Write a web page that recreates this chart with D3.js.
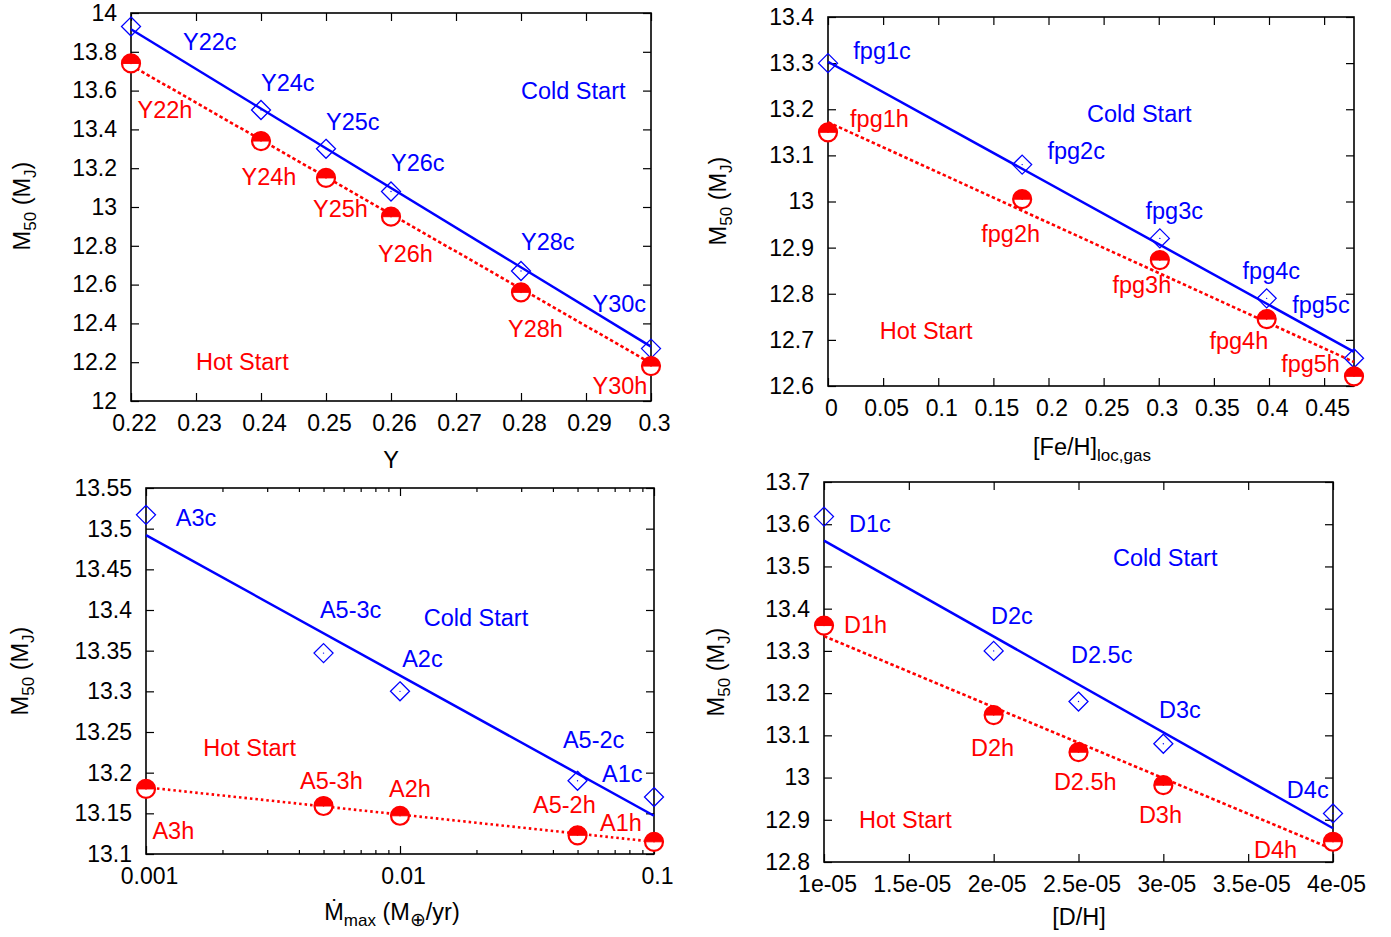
<!DOCTYPE html>
<html><head><meta charset="utf-8">
<script src="https://cdn.jsdelivr.net/npm/d3@7/dist/d3.min.js"></script>
<style>
body{margin:0;background:#fff;}
text{font-family:"Liberation Sans",Arial,Helvetica,sans-serif;}
</style></head>
<body><svg id="c" width="1391" height="937"></svg>
<script>
// ---------- DATA ----------
// Panel A: helium abundance Y
const heX = [0.22, 0.24, 0.25, 0.26, 0.28, 0.30];
const heCold = [13.93, 13.50, 13.30, 13.08, 12.67, 12.27];
const heHot = [13.74, 13.34, 13.15, 12.95, 12.56, 12.18];
const heColdFit = [13.916, 12.28];
const heHotFit = [13.73, 12.195];
const heColdLabels = ["Y22c", "Y24c", "Y25c", "Y26c", "Y28c", "Y30c"];
const heHotLabels = ["Y22h", "Y24h", "Y25h", "Y26h", "Y28h", "Y30h"];
const heColdLabelPos = [[0.228, 13.85], [0.24, 13.64], [0.25, 13.44], [0.26, 13.23], [0.28, 12.82], [0.291, 12.50]];
const heHotLabelPos = [[0.221, 13.50], [0.237, 13.155], [0.248, 12.99], [0.258, 12.76], [0.278, 12.37], [0.291, 12.08]];
const heXTicks = [0.22, 0.23, 0.24, 0.25, 0.26, 0.27, 0.28, 0.29, 0.3];
const heYTicks = [12, 12.2, 12.4, 12.6, 12.8, 13, 13.2, 13.4, 13.6, 13.8, 14];
const heStartPos = [[0.28, 13.60], [0.23, 12.20]];

// Panel B: metallicity [Fe/H]
const fehX = [0, 0.1761, 0.3010, 0.3979, 0.4771];
const fehCold = [13.30, 13.08, 12.92, 12.79, 12.66];
const fehHot = [13.15, 13.005, 12.873, 12.745, 12.621];
const fehColdFit = [13.303, 12.674];
const fehHotFit = [13.172, 12.652];
const fehColdLabels = ["fpg1c", "fpg2c", "fpg3c", "fpg4c", "fpg5c"];
const fehHotLabels = ["fpg1h", "fpg2h", "fpg3h", "fpg4h", "fpg5h"];
const fehColdLabelPos = [[0.023, 13.326], [0.199, 13.109], [0.288, 12.979], [0.376, 12.849], [0.421, 12.777]];
const fehHotLabelPos = [[0.02, 13.179], [0.139, 12.929], [0.258, 12.819], [0.346, 12.699], [0.411, 12.649]];
const fehXTicks = [0, 0.05, 0.1, 0.15, 0.2, 0.25, 0.3, 0.35, 0.4, 0.45];
const fehYTicks = [12.6, 12.7, 12.8, 12.9, 13, 13.1, 13.2, 13.3, 13.4];
const fehStartPos = [[0.235, 13.19], [0.047, 12.719]];

// Panel C: maximum accretion rate
const mdX = [0.001, 0.005, 0.01, 0.05, 0.1];
const mdCold = [13.517, 13.347, 13.30, 13.19, 13.17];
const mdHot = [13.18, 13.159, 13.147, 13.123, 13.115];
const mdColdFit = [13.492, 13.147];
const mdHotFit = [13.182, 13.115];
const mdColdLabels = ["A3c", "A5-3c", "A2c", "A5-2c", "A1c"];
const mdHotLabels = ["A3h", "A5-3h", "A2h", "A5-2h", "A1h"];
const mdColdLabelPos = [[0.00131, 13.514], [0.00484, 13.40], [0.0102, 13.34], [0.0438, 13.24], [0.0624, 13.199]];
const mdHotLabelPos = [[0.00106, 13.129], [0.00404, 13.19], [0.00905, 13.18], [0.0334, 13.16], [0.0613, 13.139]];
const mdXTicks = [0.001, 0.01, 0.1];
const mdXTickLabels = ["0.001", "0.01", "0.1"];
const mdYTicks = [13.1, 13.15, 13.2, 13.25, 13.3, 13.35, 13.4, 13.45, 13.5, 13.55];
const mdStartPos = [[0.0124, 13.39], [0.00168, 13.23]];

// Panel D: deuterium abundance
const dhX = [1e-5, 2e-5, 2.5e-5, 3e-5, 4e-5];
const dhCold = [13.618, 13.30, 13.18, 13.08, 12.915];
const dhHot = [13.36, 13.148, 13.06, 12.982, 12.848];
const dhColdFit = [13.561, 12.88];
const dhHotFit = [13.335, 12.83];
const dhColdLabels = ["D1c", "D2c", "D2.5c", "D3c", "D4c"];
const dhHotLabels = ["D1h", "D2h", "D2.5h", "D3h", "D4h"];
const dhColdLabelPos = [[1.147e-5, 13.60], [1.984e-5, 13.382], [2.456e-5, 13.29], [2.974e-5, 13.16], [3.728e-5, 12.97]];
const dhHotLabelPos = [[1.118e-5, 13.361], [1.866e-5, 13.07], [2.355e-5, 12.99], [2.856e-5, 12.911], [3.534e-5, 12.83]];
const dhXTicks = [1e-5, 1.5e-5, 2e-5, 2.5e-5, 3e-5, 3.5e-5, 4e-5];
const dhXTickLabels = ["1e-05", "1.5e-05", "2e-05", "2.5e-05", "3e-05", "3.5e-05", "4e-05"];
const dhYTicks = [12.8, 12.9, 13, 13.1, 13.2, 13.3, 13.4, 13.5, 13.6, 13.7];
const dhStartPos = [[2.703e-5, 13.52], [1.206e-5, 12.90]];

// ---------- DRAW ----------
const BLUE = "#0000ff", RED = "#ff0000";
const svg = d3.select("#c");
const FS = 23;      // tick labels
const LFS = 23.5;   // annotations
const TFS = 23.5;   // axis titles
const SFS = 17;     // subscripts

function fmt(v){ return String(+v.toFixed(6)); }

const panels = [
  {rect:[131,13,651,401], log:false, xd:[0.22,0.30], yd:[12,14], xs:heX, cold:heCold, hot:heHot, cFit:heColdFit, hFit:heHotFit,
   cl:heColdLabels, hl:heHotLabels, clp:heColdLabelPos, hlp:heHotLabelPos, xt:heXTicks, xtl:null, yt:heYTicks, start:heStartPos,
   ylab:[22,206], xlab:[391,460], xtitle:"Y", dash:"3.5,2.5"},
  {rect:[828,17,1354,386], log:false, xd:[0,0.4771], yd:[12.6,13.4], xs:fehX, cold:fehCold, hot:fehHot, cFit:fehColdFit, hFit:fehHotFit,
   cl:fehColdLabels, hl:fehHotLabels, clp:fehColdLabelPos, hlp:fehHotLabelPos, xt:fehXTicks, xtl:null, yt:fehYTicks, start:fehStartPos,
   ylab:[718,201], xlab:[1092,447], xtitle:"feh", dash:"3.5,2.5"},
  {rect:[146,488,654,854], log:true, xd:[0.001,0.1], yd:[13.1,13.55], xs:mdX, cold:mdCold, hot:mdHot, cFit:mdColdFit, hFit:mdHotFit,
   cl:mdColdLabels, hl:mdHotLabels, clp:mdColdLabelPos, hlp:mdHotLabelPos, xt:mdXTicks, xtl:mdXTickLabels, yt:mdYTicks, start:mdStartPos,
   ylab:[20,671], xlab:[392,912], xtitle:"mdot", dash:"2.5,3"},
  {rect:[824,482,1333,862], log:false, xd:[1e-5,4e-5], yd:[12.8,13.7], xs:dhX, cold:dhCold, hot:dhHot, cFit:dhColdFit, hFit:dhHotFit,
   cl:dhColdLabels, hl:dhHotLabels, clp:dhColdLabelPos, hlp:dhHotLabelPos, xt:dhXTicks, xtl:dhXTickLabels, yt:dhYTicks, start:dhStartPos,
   ylab:[716,672], xlab:[1079,917], xtitle:"[D/H]", dash:"3.5,2.5"}
];

panels.forEach(p => {
  const [x0,y0,x1,y1] = p.rect;
  const x = (p.log ? d3.scaleLog() : d3.scaleLinear()).domain(p.xd).range([x0,x1]);
  const y = d3.scaleLinear().domain(p.yd).range([y1,y0]);
  const g = svg.append("g");
  const TL = 8;

  const xtFmt = p.xtl ? (d=>p.xtl[p.xt.indexOf(d)]) : fmt;
  const axB = d3.axisBottom(x).tickValues(p.xt).tickSizeInner(-TL).tickSizeOuter(0).tickPadding(TL+6).tickFormat(xtFmt);
  const axT = d3.axisTop(x).tickValues(p.xt).tickSizeInner(-TL).tickSizeOuter(0).tickFormat("");
  const axL = d3.axisLeft(y).tickValues(p.yt).tickSizeInner(-TL).tickSizeOuter(0).tickPadding(TL+6).tickFormat(fmt);
  const axR = d3.axisRight(y).tickValues(p.yt).tickSizeInner(-TL).tickSizeOuter(0).tickFormat("");
  [[axB,`translate(0,${y1})`,true],[axT,`translate(0,${y0})`,false],[axL,`translate(${x0},0)`,false],[axR,`translate(${x1},0)`,false]].forEach(([a,t,isB])=>{
    const ag = g.append("g").attr("transform",t).call(a);
    ag.select(".domain").remove();
    ag.selectAll("line").attr("stroke","#000").attr("stroke-width",1.2);
    ag.selectAll("text").attr("font-size",FS).attr("fill","#000").attr("font-family","Liberation Sans, Arial, sans-serif");
    if (isB) ag.selectAll("text").attr("dx",3);
  });
  if (p.log) {
    const minor = [];
    for (let dec=0.001; dec<0.1-1e-12; dec*=10) for (let k=2;k<=9;k++) minor.push(dec*k);
    const mB = d3.axisBottom(x).tickValues(minor).tickSizeInner(-4).tickSizeOuter(0).tickFormat("");
    const mT = d3.axisTop(x).tickValues(minor).tickSizeInner(-4).tickSizeOuter(0).tickFormat("");
    [[mB,y1],[mT,y0]].forEach(([a,t])=>{
      const ag=g.append("g").attr("transform",`translate(0,${t})`).call(a);
      ag.select(".domain").remove();
      ag.selectAll("line").attr("stroke","#000").attr("stroke-width",1.2);
    });
  }
  g.append("rect").attr("x",x0).attr("y",y0).attr("width",x1-x0).attr("height",y1-y0)
    .attr("fill","none").attr("stroke","#000").attr("stroke-width",1.6);

  const line = d3.line().x(d=>x(d[0])).y(d=>y(d[1]));
  g.append("path").datum([[p.xd[0],p.cFit[0]],[p.xd[1],p.cFit[1]]]).attr("d",line)
    .attr("stroke",BLUE).attr("stroke-width",2.5).attr("fill","none");
  g.append("path").datum([[p.xd[0],p.hFit[0]],[p.xd[1],p.hFit[1]]]).attr("d",line)
    .attr("stroke",RED).attr("stroke-width",2.6).attr("fill","none").attr("stroke-dasharray",p.dash);

  const R = 9.5;
  p.xs.forEach((xv,i)=>{
    const cx=x(xv), cy=y(p.cold[i]);
    g.append("path").attr("d",`M${cx},${cy-R}L${cx+R},${cy}L${cx},${cy+R}L${cx-R},${cy}Z`)
      .attr("fill","none").attr("stroke",BLUE).attr("stroke-width",1.3);
    g.append("circle").attr("cx",cx).attr("cy",cy).attr("r",0.7).attr("fill",BLUE);
  });
  const r = 9;
  p.xs.forEach((xv,i)=>{
    const cx=x(xv), cy=y(p.hot[i]);
    g.append("circle").attr("cx",cx).attr("cy",cy).attr("r",r).attr("fill","#fff").attr("stroke",RED).attr("stroke-width",2.2);
    g.append("path").attr("d",`M${cx-r},${cy}A${r},${r} 0 0 1 ${cx+r},${cy}Z`).attr("fill",RED).attr("stroke",RED).attr("stroke-width",1);
    g.append("circle").attr("cx",cx).attr("cy",cy).attr("r",0.8).attr("fill",RED);
  });

  p.cl.forEach((t,i)=>{
    g.append("text").attr("x",x(p.clp[i][0])).attr("y",y(p.clp[i][1])).attr("dy","0.35em")
      .attr("font-size",LFS).attr("fill",BLUE).text(t);
  });
  p.hl.forEach((t,i)=>{
    g.append("text").attr("x",x(p.hlp[i][0])).attr("y",y(p.hlp[i][1])).attr("dy","0.35em")
      .attr("font-size",LFS).attr("fill",RED).text(t);
  });
  g.append("text").attr("x",x(p.start[0][0])).attr("y",y(p.start[0][1])).attr("dy","0.35em")
    .attr("font-size",LFS).attr("fill",BLUE).text("Cold Start");
  g.append("text").attr("x",x(p.start[1][0])).attr("y",y(p.start[1][1])).attr("dy","0.35em")
    .attr("font-size",LFS).attr("fill",RED).text("Hot Start");

  const yl = g.append("text").attr("transform",`translate(${p.ylab[0]},${p.ylab[1]}) rotate(-90)`)
    .attr("text-anchor","middle").attr("dy","0.35em").attr("font-size",TFS).attr("fill","#000");
  yl.append("tspan").text("M");
  yl.append("tspan").attr("font-size",SFS).attr("dy","6").text("50");
  yl.append("tspan").attr("dy","-6").text(" (M");
  yl.append("tspan").attr("font-size",SFS).attr("dy","6").text("J");
  yl.append("tspan").attr("dy","-6").text(")");

  const xl = g.append("text").attr("x",p.xlab[0]).attr("y",p.xlab[1]).attr("dy","0.35em")
    .attr("text-anchor","middle").attr("font-size",TFS).attr("fill","#000");
  if (p.xtitle==="feh") {
    xl.append("tspan").text("[Fe/H]");
    xl.append("tspan").attr("font-size",SFS).attr("dy","6").text("loc,gas");
  } else if (p.xtitle==="mdot") {
    xl.append("tspan").text("\u1E40");
    xl.append("tspan").attr("font-size",SFS).attr("dy","6").text("max");
    xl.append("tspan").attr("dy","-6").text(" (M");
    xl.append("tspan").attr("font-size",SFS+2).attr("dy","6").text("\u2295");
    xl.append("tspan").attr("dy","-6").text("/yr)");
  } else {
    xl.text(p.xtitle);
  }
});
</script></body></html>
